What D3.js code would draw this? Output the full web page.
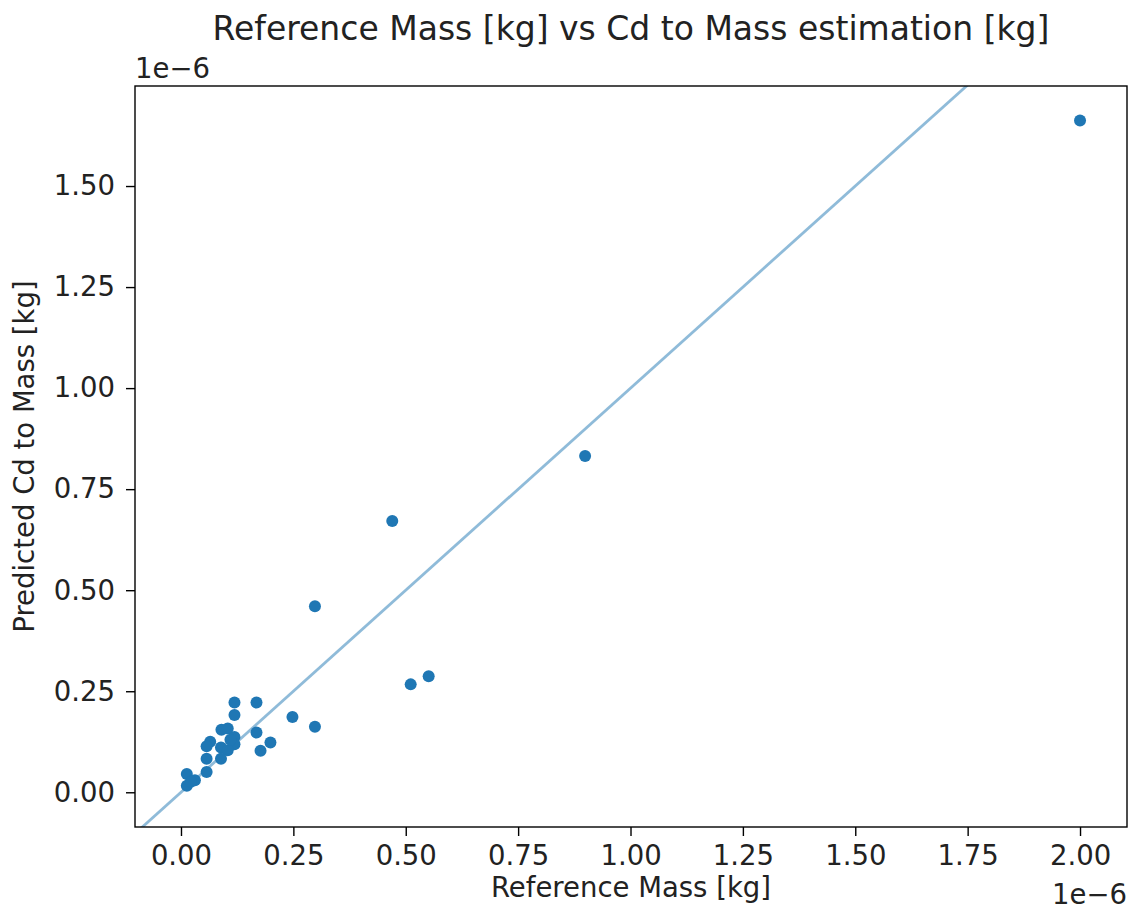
<!DOCTYPE html>
<html>
<head>
<meta charset="utf-8">
<script src="https://cdn.jsdelivr.net/npm/d3@7"></script>
<style>
  body { margin: 0; background: #fff; }
  text { font-family: "DejaVu Sans", sans-serif; fill: #222; }
</style>
</head>
<body>
<div id="chart"></div>
<script>
// values in units of 1e-6 kg
var refMass = [2.00, 0.899, 0.470, 0.298, 0.551, 0.511, 0.168, 0.119, 0.119, 0.248,
               0.298, 0.168, 0.199, 0.177, 0.090, 0.104, 0.119, 0.119, 0.065, 0.057,
               0.089, 0.104, 0.057, 0.089, 0.057, 0.013, 0.031, 0.013, 0.022, 0.110];
var predMass = [1.662, 0.832, 0.671, 0.460, 0.287, 0.267, 0.222, 0.222, 0.191, 0.186,
                0.162, 0.148, 0.123, 0.103, 0.155, 0.158, 0.137, 0.119, 0.125, 0.114,
                0.111, 0.104, 0.083, 0.083, 0.050, 0.045, 0.030, 0.016, 0.026, 0.130];
var xTicks = [0, 0.25, 0.5, 0.75, 1.0, 1.25, 1.5, 1.75, 2.0];
var yTicks = [0, 0.25, 0.5, 0.75, 1.0, 1.25, 1.5];

var svgWidth = 1135;
var svgHeight = 915;
var margin = { top: 86, right: 8, bottom: 88, left: 135 };

var svg = d3.select("#chart")
  .append("svg")
  .attr("width", svgWidth)
  .attr("height", svgHeight);

var x = d3.scaleLinear()
  .domain([-0.1023, 2.1045])
  .range([margin.left, svgWidth - margin.right]);

var y = d3.scaleLinear()
  .domain([-0.0859, 1.7475])
  .range([svgHeight - margin.bottom, margin.top]);

svg.append("clipPath")
  .attr("id", "plot-clip")
  .append("rect")
  .attr("x", x.range()[0])
  .attr("y", y.range()[1])
  .attr("width", x.range()[1] - x.range()[0])
  .attr("height", y.range()[0] - y.range()[1]);

// y = x reference line
var lineDomain = [-0.2, 2.2];
svg.append("line")
  .attr("clip-path", "url(#plot-clip)")
  .attr("x1", x(lineDomain[0]))
  .attr("y1", y(lineDomain[0]))
  .attr("x2", x(lineDomain[1]))
  .attr("y2", y(lineDomain[1]))
  .attr("stroke", "#1f77b4")
  .attr("stroke-opacity", 0.5)
  .attr("stroke-width", 2.8);

// points
svg.append("g")
  .attr("clip-path", "url(#plot-clip)")
  .selectAll("circle")
  .data(refMass)
  .enter()
  .append("circle")
  .attr("cx", function(d) { return x(d); })
  .attr("cy", function(d, i) { return y(predMass[i]); })
  .attr("r", 6)
  .attr("fill", "#1f77b4");

// axes
var fmt = d3.format(".2f");
var xAxis = svg.append("g")
  .attr("transform", "translate(0," + y.range()[0] + ")")
  .call(d3.axisBottom(x).tickValues(xTicks).tickFormat(fmt).tickSize(9).tickPadding(9));

var yAxis = svg.append("g")
  .attr("transform", "translate(" + x.range()[0] + ",0)")
  .call(d3.axisLeft(y).tickValues(yTicks).tickFormat(fmt).tickSize(9).tickPadding(11));

[xAxis, yAxis].forEach(function(a) {
  a.select(".domain").remove();
  a.selectAll("line").attr("stroke", "#000").attr("stroke-width", 1.4);
  a.selectAll("text").style("font-size", "27.5px").attr("fill", "#222");
});

// frame
svg.append("rect")
  .attr("x", x.range()[0])
  .attr("y", y.range()[1])
  .attr("width", x.range()[1] - x.range()[0])
  .attr("height", y.range()[0] - y.range()[1])
  .attr("fill", "none")
  .attr("stroke", "#000")
  .attr("stroke-width", 1.4);

// offset labels
svg.append("text")
  .attr("x", x.range()[0])
  .attr("y", 78)
  .style("font-size", "27.5px")
  .text("1e\u22126");

svg.append("text")
  .attr("x", x.range()[1])
  .attr("y", 904)
  .attr("text-anchor", "end")
  .style("font-size", "27.5px")
  .text("1e\u22126");

// title
svg.append("text")
  .attr("x", (x.range()[0] + x.range()[1]) / 2)
  .attr("y", 40)
  .attr("text-anchor", "middle")
  .style("font-size", "33px")
  .text("Reference Mass [kg] vs Cd to Mass estimation [kg]");

// axis labels
svg.append("text")
  .attr("x", (x.range()[0] + x.range()[1]) / 2)
  .attr("y", 897)
  .attr("text-anchor", "middle")
  .style("font-size", "27.5px")
  .text("Reference Mass [kg]");

svg.append("text")
  .attr("transform", "translate(34," + (y.range()[0] + y.range()[1]) / 2 + ") rotate(-90)")
  .attr("text-anchor", "middle")
  .style("font-size", "27.5px")
  .text("Predicted Cd to Mass [kg]");
</script>
</body>
</html>
